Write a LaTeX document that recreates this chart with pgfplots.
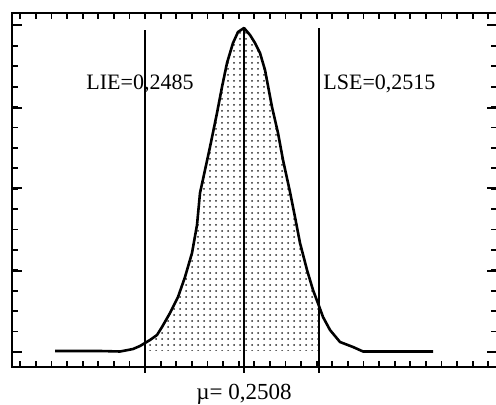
\documentclass[border=0pt]{standalone}
\usepackage{pgfplots}
\pgfplotsset{compat=1.18}
\usepackage{fontspec}
\setmainfont{Liberation Serif}
\usetikzlibrary{patterns}
\begin{document}
\begin{tikzpicture}
\begin{axis}[
  x=0.5pt, y=0.5pt,
  xmin=12, xmax=497, ymin=38, ymax=392,
  clip=false,
  axis line style={line width=1.1pt},
  tick align=inside,
  xtick={20.2,35.8,...,496},
  ytick={53,73.4,...,392},
  xticklabels={}, yticklabels={},
  major tick length=2.8pt,
  tick style={line width=0.9pt, black},
  extra y ticks={53,134,217,297,380},
  extra y tick labels={},
  extra y tick style={major tick length=5pt},
]
% shaded region between LIE and LSE
\addplot[pattern=dots, pattern color=black!85, draw=none] coordinates {
(145,54) (145,62) (150,65) (157,70) (162,78) (170,92) (178,108) (185,128)
(192,152) (197,180) (200,212) (205,235) (210,258) (217,292) (222,318)
(227,342) (233,362) (238,373) (244,377) (250,370) (255,362) (260,352)
(265,335) (272,298) (278,272) (283,245) (290,213) (295,188) (300,162)
(307,135) (313,115) (319,99) (319,54)} -- cycle;
% distribution curve
\addplot[black, line width=1.3pt, line join=round] coordinates {
(55,54) (80,54) (100,54) (120,53.5) (128,55) (133,56) (140,59) (145,62)
(150,65) (157,70) (162,78) (170,92) (178,108) (185,128) (192,152) (197,180)
(200,212) (205,235) (210,258) (217,292) (222,318) (227,342) (233,362)
(238,373) (244,377) (250,370) (255,362) (260,352) (265,335) (272,298)
(278,272) (283,245) (290,213) (295,188) (300,162) (307,135) (313,115)
(319,99) (323,88) (330,75) (340,63) (353,58) (363,53.5) (400,53.5) (433,53.5)};
% vertical lines
\addplot[black, line width=1.1pt] coordinates {(145,32) (145,375)};
\addplot[black, line width=1.1pt] coordinates {(244,32) (244,377)};
\addplot[black, line width=1.1pt] coordinates {(319,32) (319,377)};
\node[anchor=base west, font=\fontsize{11}{13}\selectfont, inner sep=0pt] at (axis cs:86,315) {LIE=0,2485};
\node[anchor=base west, font=\fontsize{11}{13}\selectfont, inner sep=0pt] at (axis cs:323,315) {LSE=0,2515};
\node[anchor=north, font=\fontsize{11.5}{13}\selectfont, inner sep=0pt] at (axis cs:244,21) {µ= 0,2508};
\coordinate (bbsw) at (axis cs:0,0);
\coordinate (bbne) at (axis cs:496,405);
\end{axis}
\pgfresetboundingbox
\path (bbsw) rectangle (bbne);
\end{tikzpicture}
\end{document}
